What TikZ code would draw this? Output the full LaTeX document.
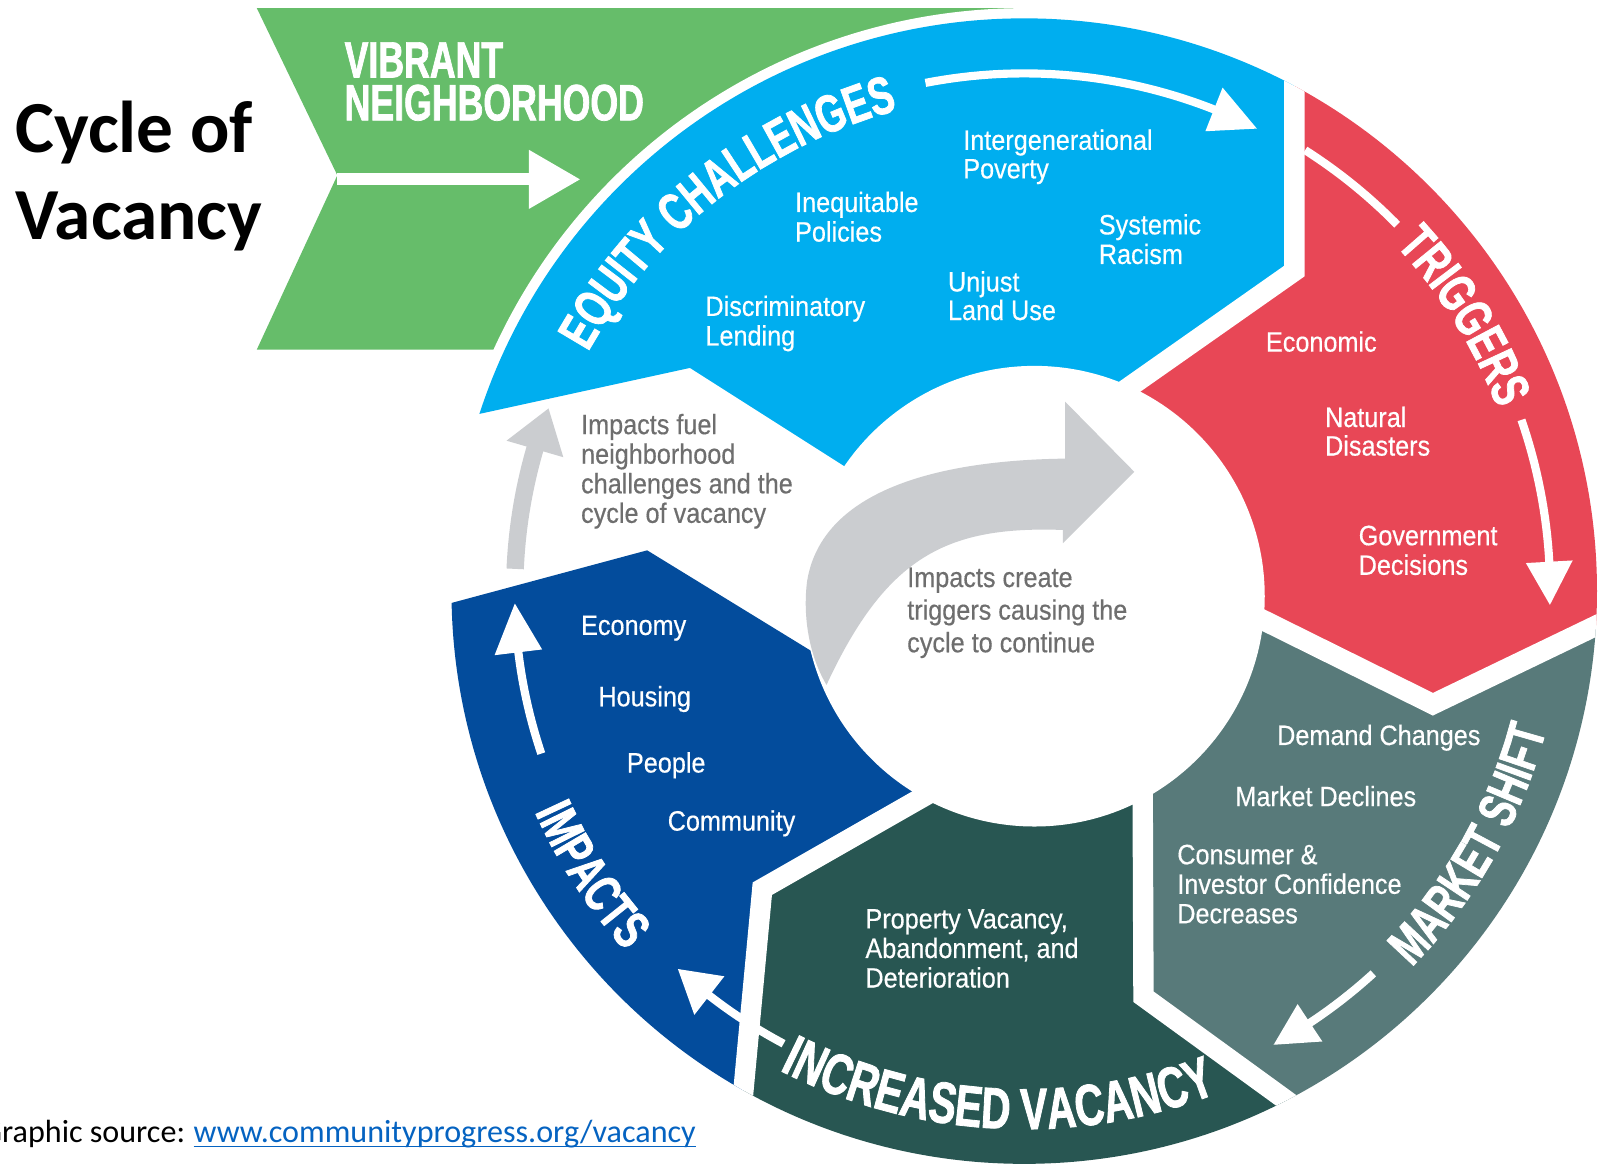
\documentclass[tikz,border=0pt]{standalone}
\usepackage{fontspec}
\usetikzlibrary{calc,decorations.text}
\newfontfamily\calib{Carlito}
\newfontfamily\cond[FakeStretch=0.9,FakeBold=0.4]{Liberation Sans}
\newfontfamily\condb[FakeStretch=0.70,FakeBold=1.4]{Liberation Sans}
\definecolor{cGreen}{RGB}{102,189,106}
\definecolor{cBlue}{RGB}{0,174,239}
\definecolor{cRed}{RGB}{232,71,86}
\definecolor{cMarket}{RGB}{88,122,122}
\definecolor{cVac}{RGB}{40,86,82}
\definecolor{cImp}{RGB}{3,76,156}
\definecolor{cLGrey}{RGB}{203,205,208}
\definecolor{cGText}{RGB}{110,110,110}
\definecolor{cLink}{RGB}{5,99,193}
\newcommand\itemfont{\cond\fontsize{27.5}{28}\selectfont}
\newcommand\headfont{\condb\bfseries\fontsize{52}{52}\selectfont}
\newcommand\bigheadfont{\condb\bfseries\fontsize{57}{57}\selectfont}
\newcommand\ringarc[3]{plot[domain=#1:#2,samples=60]({1005+#3*cos(\x)},{580+#3*sin(\x)})}
\newcommand\ringhead[5]{\fill[#5] ($(O)+(#1:#3)$) -- ($(O)+(#2:{#3+#4})$) -- ($(O)+(#2:{#3-#4})$) -- cycle;}
\begin{document}
\begin{tikzpicture}[x=1pt,y=-1pt,
  itm/.style={anchor=base west, inner sep=0pt, text=white, font=\itemfont},
  gtx/.style={anchor=base west, inner sep=0pt, text=cGText, font=\cond\fontsize{27.5}{28}\selectfont},
  wline/.style={draw=white, line width=8},
  gapline/.style={draw=white, line width=20, line join=miter},
  ttl/.style={anchor=base west, inner sep=0pt, font=\calib\bfseries\fontsize{72}{80}\selectfont},
  vib/.style={anchor=base west, inner sep=0pt, text=white, font=\condb\bfseries\fontsize{50}{50}\selectfont}]
\useasboundingbox (0,0) rectangle (1568,1142);
\fill[white] (0,0) rectangle (1568,1142);
\coordinate (O) at (1005,580);
\coordinate (Oi) at (1015,585);

% vibrant neighborhood chevron
\fill[cGreen] (252,8) -- (1000,8) -- (1000,343) -- (252,343) -- (331,172) -- cycle;
\coordinate (ga) at (331,176);
\coordinate (gb) at (521,176);
\draw[white, line width=12] (ga) -- (gb);
\fill[white] (519,147) -- (569,176) -- (519,205) -- cycle;
\node[vib] (vb1) at (338,76) {VIBRANT};
\node[vib] (vb2) at (338,118) {NEIGHBORHOOD};

% white gap around ring
\fill[white] (O) circle[radius=572pt];

% ring segments
\begin{scope}
\clip (O) circle[radius=562pt];
\fill[cBlue] (930,522) -- (677,361) -- (384,425) -- (330,50) -- (700,-200) -- (1270,-60) -- (1270,266) -- (1065,410) -- cycle;
\fill[cRed] (1065,410) -- (1270,266) -- (1270,-60) -- (1750,-60) -- (1750,561) -- (1676,561) -- (1406,691) -- (1182,580) -- cycle;
\fill[cMarket] (1182,580) -- (1406,691) -- (1676,561) -- (1750,600) -- (1700,1250) -- (1323,1124) -- (1122,978) -- (1121,720) -- cycle;
\fill[cVac] (1121,720) -- (1122,978) -- (1323,1124) -- (1300,1300) -- (720,1300) -- (720,1171) -- (748,872) -- (974,743) -- cycle;
\fill[cImp] (974,743) -- (748,872) -- (720,1171) -- (300,1100) -- (345,618) -- (635,540) -- (891,697) -- cycle;
\draw[gapline] (1270,-60) -- (1270,266) -- (1065,410);
\draw[gapline] (1676,561) -- (1406,691) -- (1182,580);
\draw[gapline] (1323,1124) -- (1122,978) -- (1121,720);
\draw[gapline] (720,1171) -- (748,872) -- (974,743);
\end{scope}
\fill[white] (Oi) circle[radius=226pt];

% big grey arrow in centre
\fill[cLGrey] (811,672) .. controls (792,640) and (788,600) .. (792,570)
  .. controls (805,490) and (900,452) .. (1045,450) -- (1045,394) -- (1113,463)
  -- (1043,533) -- (1043,520) .. controls (930,516) and (870,545) .. (811,672) -- cycle;

% small grey arrow on the left
\draw[line width=17, cLGrey] \ringarc{182.5}{196.7}{500};
\ringhead{201}{196.2}{500}{29}{cLGrey}

% white arrows
\draw[wline] \ringarc{-101}{-68}{508};
\ringhead{-63.3}{-68.5}{508}{23}{white}
\draw[wline] \ringarc{-57.5}{-44.5}{513};
\draw[wline] \ringarc{-19}{-2.7}{516};
\ringhead{1.5}{-3.2}{516}{23}{white}
\draw[wline] \ringarc{47.6}{57}{508};
\ringhead{61.2}{56.5}{508}{22}{white}
\draw[wline] \ringarc{118}{128.4}{503};
\ringhead{132.5}{127.9}{503}{24}{white}
\draw[wline] \ringarc{161.4}{173.6}{500};
\ringhead{178.6}{173.1}{500}{23.5}{white}

% curved headings
\path[decorate,decoration={text along path,text align=center,text={|\headfont\color{white}|EQUITY CHALLENGES}}] \ringarc{-173}{-83}{488};
\path[decorate,decoration={text along path,text align=center,text={|\headfont\color{white}|TRIGGERS}}] \ringarc{-62}{-2}{498};
\path[decorate,decoration={text along path,text align=center,text={|\headfont\color{white}|MARKET SHIFT}}] \ringarc{69.5}{-10.5}{530};
\path[decorate,decoration={text along path,text align=center,text={|\bigheadfont\color{white}|INCREASED VACANCY}}] \ringarc{138}{48}{528};
\path[decorate,decoration={text along path,text align=center,text={|\headfont\color{white}|IMPACTS}}] \ringarc{186.8}{106.8}{527};

% equity items
\node[itm] (ig1) at (945,147) {Intergenerational};
\node[itm] (ig2) at (945,175) {Poverty};
\node[itm] (iq1) at (780,208) {Inequitable};
\node[itm] (iq2) at (780,237) {Policies};
\node[itm] (sy1) at (1078,230) {Systemic};
\node[itm] (sy2) at (1078,259) {Racism};
\node[itm] (uj1) at (930,286) {Unjust};
\node[itm] (uj2) at (930,314) {Land Use};
\node[itm] (dl1) at (692,310) {Discriminatory};
\node[itm] (dl2) at (692,339) {Lending};
% triggers items
\node[itm] (ec) at (1242,345) {Economic};
\node[itm] (nd1) at (1300,419) {Natural};
\node[itm] (nd2) at (1300,447) {Disasters};
\node[itm] (gd1) at (1333,535) {Government};
\node[itm] (gd2) at (1333,564) {Decisions};
% market items
\node[itm] (dc) at (1253,731) {Demand Changes};
\node[itm] (md) at (1212,791) {Market Declines};
\node[itm] (ci1) at (1155,848) {Consumer \&};
\node[itm] (ci2) at (1155,877) {Investor Confidence};
\node[itm] (ci3) at (1155,906) {Decreases};
% vacancy items
\node[itm] (pv1) at (849,911) {Property Vacancy,};
\node[itm] (pv2) at (849,940) {Abandonment, and};
\node[itm] (pv3) at (849,969) {Deterioration};
% impacts items
\node[itm] (im1) at (570,623) {Economy};
\node[itm] (im2) at (587,693) {Housing};
\node[itm] (im3) at (615,758) {People};
\node[itm] (im4) at (655,815) {Community};
% grey explanatory text
\node[gtx] (gf1) at (570,426) {Impacts fuel};
\node[gtx] (gf2) at (570,455) {neighborhood};
\node[gtx] (gf3) at (570,484) {challenges and the};
\node[gtx] (gf4) at (570,513) {cycle of vacancy};
\node[gtx] (gc1) at (890,576) {Impacts create};
\node[gtx] (gc2) at (890,608) {triggers causing the};
\node[gtx] (gc3) at (890,640) {cycle to continue};

% title
\node[ttl] (t1) at (15,150) {Cycle of};
\node[ttl] (t2) at (15,235) {Vacancy};

% source
\node[anchor=base west, inner sep=0pt, font=\calib\fontsize{31.5}{36}\selectfont] (src) at (-18,1121) {Graphic source:};
\node[anchor=base west, inner sep=0pt, text=cLink, font=\calib\fontsize{31.5}{36}\selectfont] (lnk) at ([xshift=8pt]src.base east) {www.communityprogress.org/vacancy};
\draw[cLink, line width=1.8] ([yshift=-4pt]lnk.base west) -- ([yshift=-4pt]lnk.base east);
\end{tikzpicture}
\end{document}
